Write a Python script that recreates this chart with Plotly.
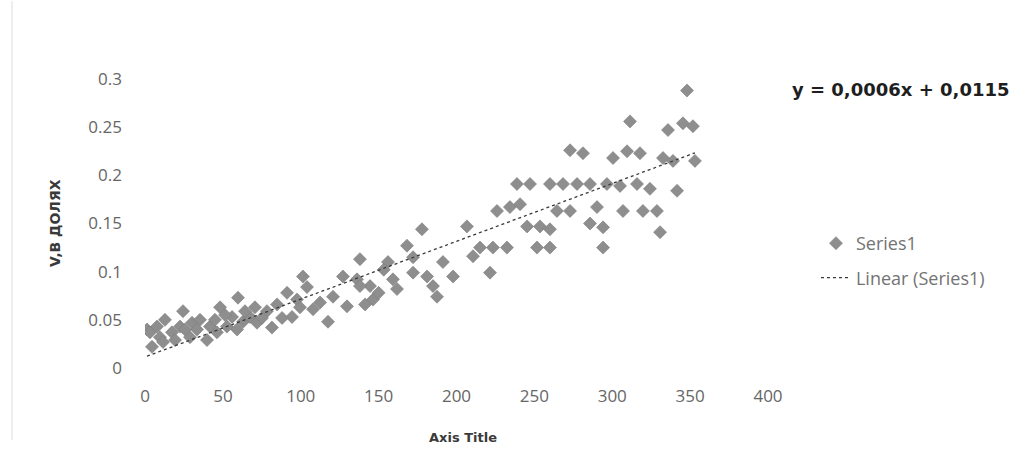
import plotly.graph_objects as go

# Data
x_vals = [1.3, 4.5, 9.6, 12.8, 17.3, 24.4, 22.5, 30.2, 35.3, 28.9, 39.8, 41.7, 48.2, 46.2, 52.6,
          55.9, 59.7, 62.9, 67.4, 70.6, 71.9, 78.3, 81.5, 84.8, 91.2, 94.4, 97.6, 101.4, 104.0,
          107.9, 112.4, 3.2, 7.7, 11.6, 19.3, 25.7, 33.4, 44.9, 51.4, 59.1, 75.1, 88.0, 99.5,
          64.2, 117.5, 120.7, 127.1, 129.7, 136.1, 138.0, 144.5, 146.4, 156.0, 159.2, 161.8,
          168.2, 172.1, 172.1, 177.8, 181.1, 184.9, 187.5, 191.3, 197.8, 206.7, 210.6,
          138.0, 150.0, 141.3, 153.3,
          215.1, 223.4, 232.4, 221.5, 226.0, 234.3, 240.8, 245.3, 253.6, 260.0, 251.7, 260.0,
          238.8, 247.2, 260.0, 268.4, 277.4, 285.7, 264.5, 272.9, 272.9, 281.2, 285.7, 294.1,
          294.1, 290.2, 296.6, 305.0, 300.5, 306.9, 309.5, 317.8, 311.4, 315.9, 324.2, 319.7,
          328.7, 330.7, 332.6, 339.0, 335.8, 341.6, 345.4, 351.8, 348.0, 353.1]
y_vals = [0.040, 0.022, 0.032, 0.050, 0.037, 0.059, 0.043, 0.047, 0.050, 0.032, 0.029, 0.043,
          0.063, 0.037, 0.043, 0.053, 0.073, 0.048, 0.053, 0.063, 0.047, 0.059, 0.042, 0.066,
          0.078, 0.053, 0.071, 0.095, 0.084, 0.061, 0.068, 0.037, 0.043, 0.027, 0.029, 0.040,
          0.040, 0.050, 0.055, 0.040, 0.052, 0.052, 0.063, 0.059, 0.048, 0.074, 0.095, 0.064,
          0.092, 0.113, 0.085, 0.071, 0.110, 0.092, 0.082, 0.127, 0.115, 0.099, 0.144, 0.095,
          0.085, 0.074, 0.110, 0.095, 0.147, 0.116,
          0.085, 0.078, 0.066, 0.102,
          0.125, 0.125, 0.125, 0.099, 0.163, 0.167, 0.170, 0.147, 0.147, 0.144, 0.125, 0.125,
          0.191, 0.191, 0.191, 0.191, 0.191, 0.191, 0.163, 0.163, 0.226, 0.223, 0.150, 0.146,
          0.125, 0.167, 0.191, 0.189, 0.218, 0.163, 0.225, 0.223, 0.256, 0.191, 0.186, 0.163,
          0.163, 0.141, 0.218, 0.215, 0.247, 0.184, 0.254, 0.251, 0.288, 0.215]

x_ticks = [0, 50, 100, 150, 200, 250, 300, 350, 400]
y_ticks = [0, 0.05, 0.1, 0.15, 0.2, 0.25, 0.3]
y_tick_text = ["0", "0.05", "0.1", "0.15", "0.2", "0.25", "0.3"]

slope = 0.0006
intercept = 0.0115
trend_x = [min(x_vals), max(x_vals)]
trend_y = [slope * v + intercept for v in trend_x]

equation_text = "y = 0,0006x + 0,0115"
y_title = "V,В ДОЛЯХ"
x_title = "Axis Title"

BOLD_FONT = "'DejaVu Sans', sans-serif"
LIGHT_FONT = "'Open Sans', 'DejaVu Sans', sans-serif"

fig = go.Figure()
fig.add_trace(go.Scatter(
    x=x_vals, y=y_vals, mode="markers", name="Series1",
    marker=dict(symbol="diamond", size=10, color="#8e8e8e",
                line=dict(width=0.6, color="#7c7c7c")),
    legendgroup="a",
))
fig.add_trace(go.Scatter(
    x=trend_x, y=trend_y, mode="lines", name="Linear (Series1)",
    line=dict(color="#3a3a3a", width=1.3, dash="dot"),
    legendgroup="b",
))

fig.update_layout(
    width=1019, height=455,
    margin=dict(l=145, r=251, t=79, b=87),
    paper_bgcolor="white", plot_bgcolor="white",
    font=dict(family=LIGHT_FONT, size=16, color="#666666"),
    showlegend=True,
    legend=dict(x=1.077, y=0.495, xanchor="left", yanchor="top",
                font=dict(size=18, color="#737373", family=LIGHT_FONT),
                tracegroupgap=8, bgcolor="rgba(0,0,0,0)"),
    xaxis=dict(range=[0, 400], tickvals=x_ticks, showgrid=False, zeroline=False,
               showline=False, ticks="", ticklabelstandoff=16,
               tickfont=dict(size=17, color="#666666", family=LIGHT_FONT)),
    yaxis=dict(range=[0, 0.3], tickvals=y_ticks, ticktext=y_tick_text, showgrid=False,
               zeroline=False, showline=False, ticks="", ticklabelstandoff=22,
               tickfont=dict(size=17, color="#666666", family=LIGHT_FONT)),
    annotations=[
        dict(text="<b>" + equation_text + "</b>", xref="paper", yref="paper",
             x=1.0353, y=0.962, xanchor="left", yanchor="middle", showarrow=False,
             font=dict(size=18, color="#1e1e1e", family=BOLD_FONT)),
        dict(text="<b>" + y_title + "</b>", xref="paper", yref="paper",
             x=-0.1445, y=0.502, textangle=-90, xanchor="center", yanchor="middle",
             showarrow=False, font=dict(size=14, color="#3a3a3a", family=BOLD_FONT)),
        dict(text="<b>" + x_title + "</b>", xref="paper", yref="paper",
             x=0.510, y=-0.239, xanchor="center", yanchor="middle",
             showarrow=False, font=dict(size=13, color="#3a3a3a", family=BOLD_FONT)),
    ],
    shapes=[
        dict(type="line", xref="paper", yref="paper", x0=-0.2135, x1=-0.2135,
             y0=-0.25, y1=1.27, line=dict(color="#dcdcdc", width=1)),
    ],
)

fig.write_html("out.html")
